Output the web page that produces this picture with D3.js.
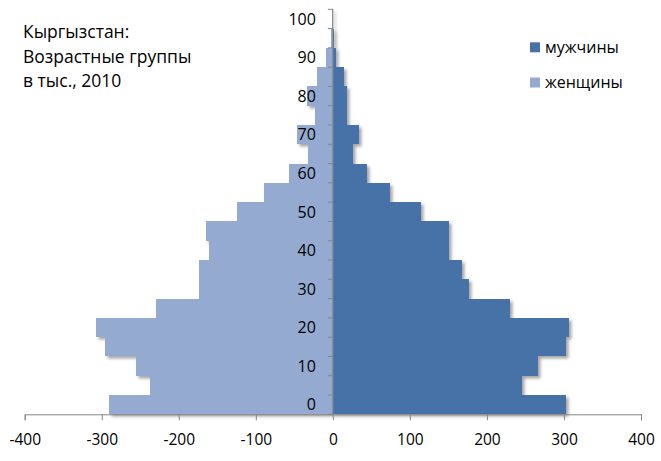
<!DOCTYPE html>
<html>
<head>
<meta charset="utf-8">
<script src="https://cdn.jsdelivr.net/npm/d3@7"></script>
<style>
  html, body { margin: 0; padding: 0; background: #fff; }
  svg { display: block; font-family: "Open Sans", "Noto Sans", sans-serif; }
</style>
</head>
<body>
<svg id="chart" width="661" height="461"></svg>
<script>
// Age group starts (5-year groups)
const ageGroups = [0, 5, 10, 15, 20, 25, 30, 35, 40, 45, 50, 55, 60, 65, 70, 75, 80, 85, 90, 95, 100];
// Population in thousands, 2010
const male   = [303, 246, 266, 302, 306, 230, 177, 167, 151, 151, 115, 74, 44, 26, 34, 18, 18, 14, 4, 1, 0];
const female = [291, 238, 255, 296, 307, 229, 174, 174, 161, 165, 124, 90, 57, 32, 47, 23, 33, 21, 8.5, 3, 0.5];
const xTicks = [-400, -300, -200, -100, 0, 100, 200, 300, 400];
const yLabels = [0, 10, 20, 30, 40, 50, 60, 70, 80, 90, 100];
const seriesNames = ["мужчины", "женщины"];
const titleLines = ["Кыргызстан:", "Возрастные группы", "в тыс., 2010"];

const colors = { male: "#4672A7", female: "#95AAD1" };
const axisColor = "#868686";

const svg = d3.select("#chart");

const x = d3.scaleLinear().domain([-400, 400]).range([24.7, 641]);
const y = d3.scaleBand().domain(ageGroups.map(String)).range([414.3, 9.3]).padding(0);

// drop shadow filter
const defs = svg.append("defs");
const f = defs.append("filter").attr("id", "shadow")
  .attr("x", "-10%").attr("y", "-10%").attr("width", "130%").attr("height", "130%");
f.append("feDropShadow").attr("dx", 2.5).attr("dy", 2.5).attr("stdDeviation", 1.6)
  .attr("flood-color", "#000").attr("flood-opacity", 0.35);

// Female bars (left)
svg.append("g").attr("filter", "url(#shadow)")
  .selectAll("rect").data(female).join("rect")
  .attr("x", d => x(-d))
  .attr("y", (d, i) => y(String(ageGroups[i])))
  .attr("width", d => x(0) - x(-d))
  .attr("height", y.bandwidth())
  .attr("shape-rendering", "crispEdges")
  .attr("fill", colors.female);

// Male bars (right)
svg.append("g").attr("filter", "url(#shadow)")
  .selectAll("rect").data(male).join("rect")
  .attr("x", x(0))
  .attr("y", (d, i) => y(String(ageGroups[i])))
  .attr("width", d => x(d) - x(0))
  .attr("height", y.bandwidth())
  .attr("shape-rendering", "crispEdges")
  .attr("fill", colors.male);

// X axis
const xAxis = svg.append("g")
  .attr("transform", `translate(0,${414.3})`)
  .call(d3.axisBottom(x).tickValues(xTicks).tickSize(6).tickPadding(14).tickFormat(d => String(d)));
xAxis.select(".domain").attr("stroke", axisColor);
xAxis.selectAll(".tick line").attr("stroke", axisColor);
xAxis.selectAll("text").attr("font-size", 15.5).attr("fill", "#000")
  .attr("font-family", "'Open Sans', 'Noto Sans', sans-serif");

// Y axis: ticks at band boundaries
const yAxisG = svg.append("g");
const boundaries = ageGroups.map(a => y(String(a))).concat([y.range()[0]]);
yAxisG.append("line")
  .attr("x1", x(0)).attr("x2", x(0))
  .attr("y1", y.range()[1]).attr("y2", y.range()[0])
  .attr("stroke", axisColor).attr("stroke-width", 1);
yAxisG.selectAll("line.tk").data(boundaries).join("line").attr("class", "tk")
  .attr("x1", x(0) - 5).attr("x2", x(0))
  .attr("y1", d => d).attr("y2", d => d)
  .attr("stroke", axisColor);
yAxisG.selectAll("text").data(yLabels).join("text")
  .attr("x", x(0) - 17)
  .attr("y", d => y(String(d)) + y.bandwidth() / 2)
  .attr("dy", "0.36em")
  .attr("text-anchor", "end")
  .attr("font-size", 16)
  .attr("fill", "#000")
  .text(d => d);

// Title
const title = svg.append("text").attr("x", 23).attr("y", 38).attr("font-size", 17.5).attr("fill", "#000");
title.selectAll("tspan").data(titleLines).join("tspan")
  .attr("x", 23).attr("dy", (d, i) => i === 0 ? 0 : 24.5).text(d => d);

// Legend
const legend = svg.append("g");
const legendColors = [colors.male, colors.female];
const legendY = [47.3, 82.5];
seriesNames.forEach((name, i) => {
  legend.append("rect").attr("x", 530).attr("y", legendY[i] - 5).attr("width", 10).attr("height", 10)
    .attr("fill", legendColors[i]);
  legend.append("text").attr("x", 545).attr("y", legendY[i]).attr("dy", "0.35em")
    .attr("font-size", 16).attr("fill", "#000").text(name);
});
</script>
</body>
</html>
